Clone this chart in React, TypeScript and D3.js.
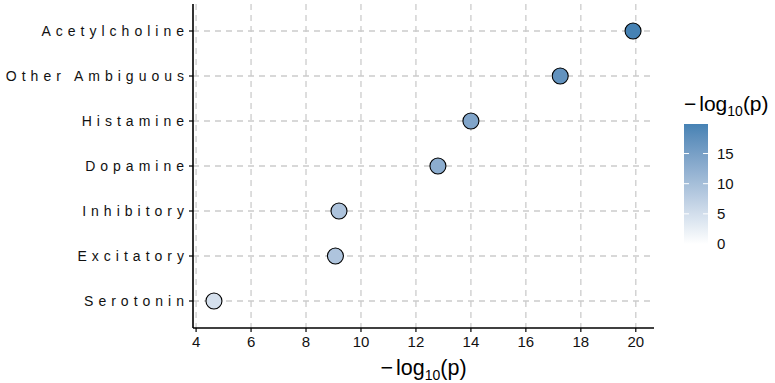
import * as d3 from "d3";

const CATEGORIES = [
  "Acetylcholine",
  "Other Ambiguous",
  "Histamine",
  "Dopamine",
  "Inhibitory",
  "Excitatory",
  "Serotonin",
];
const NEG_LOG_P = [19.9, 17.25, 14.0, 12.8, 9.2, 9.07, 4.65];
const X_TICKS = [4, 6, 8, 10, 12, 14, 16, 18, 20];
const LEGEND_TICKS = [0, 5, 10, 15];

const FONT = "'Liberation Sans', Arial, Helvetica, sans-serif";

export default function App() {
  const width = 775;
  const height = 383;
  const panel = { left: 193, right: 654, top: 4, bottom: 328 };

  const [xmin, xmax] = d3.extent(NEG_LOG_P) as [number, number];
  const pad = (xmax - xmin) * 0.05;
  const x = d3.scaleLinear().domain([xmin - pad, xmax + pad]).range([panel.left, panel.right]);

  const y = d3
    .scalePoint<string>()
    .domain(CATEGORIES)
    .range([panel.top, panel.bottom])
    .padding(0.6);

  const fillMax = xmax;
  const color = d3.scaleLinear<string>().domain([0, fillMax]).range(["#ffffff", "#4682B4"]).interpolate(d3.interpolateLab);

  // legend colour bar
  const bar = { x: 684, w: 24, bottom: 244, top: 124 };
  const ly = d3.scaleLinear().domain([0, fillMax]).range([bar.bottom, bar.top]);
  const stops = d3.range(0, 1.0001, 0.1);

  const gridStyle = { stroke: "#cccccc", strokeWidth: 1.3, strokeDasharray: "6,5" };
  const spacing = 5.0;

  return (
    <svg width={width} height={height} style={{ position: "absolute", left: 0, top: 0 }} fontFamily={FONT}>
      <defs>
        <linearGradient id="fillbar" x1="0" y1="1" x2="0" y2="0">
          {stops.map((t) => (
            <stop key={t} offset={`${t * 100}%`} stopColor={color(t * fillMax)} />
          ))}
        </linearGradient>
      </defs>

      {/* grid */}
      {X_TICKS.map((t) => (
        <line key={`gx${t}`} x1={x(t)} x2={x(t)} y1={panel.top} y2={panel.bottom} {...gridStyle} />
      ))}
      {CATEGORIES.map((c) => (
        <line key={`gy${c}`} x1={panel.left} x2={panel.right} y1={y(c)} y2={y(c)} {...gridStyle} />
      ))}

      {/* axes */}
      <line x1={panel.left} x2={panel.left} y1={panel.top} y2={panel.bottom} stroke="#000" strokeWidth={1.6} />
      <line x1={panel.left} x2={panel.right} y1={panel.bottom} y2={panel.bottom} stroke="#000" strokeWidth={1.6} />

      {CATEGORIES.map((c) => (
        <g key={`yt${c}`}>
          <line x1={panel.left - 4} x2={panel.left} y1={y(c)} y2={y(c)} stroke="#000" strokeWidth={1.2} />
          <text
            x={184 + spacing}
            y={y(c)}
            dy="0.36em"
            textAnchor="end"
            fontSize={14}
            letterSpacing={spacing}
            fill="#111"
          >
            {c}
          </text>
        </g>
      ))}

      {X_TICKS.map((t) => (
        <g key={`xt${t}`}>
          <line x1={x(t)} x2={x(t)} y1={panel.bottom} y2={panel.bottom + 4} stroke="#000" strokeWidth={1.2} />
          <text x={x(t)} y={panel.bottom + 19} textAnchor="middle" fontSize={15} fill="#111">
            {t}
          </text>
        </g>
      ))}

      <text x={(panel.left + panel.right) / 2} y={375} textAnchor="middle" fontSize={21.5} fill="#000">
        −<tspan dx={3}>log</tspan>
        <tspan fontSize={14} dy={5}>10</tspan>
        <tspan dy={-5}>(p)</tspan>
      </text>

      {/* points */}
      {CATEGORIES.map((c, i) => (
        <circle
          key={`p${c}`}
          cx={x(NEG_LOG_P[i])}
          cy={y(c)}
          r={8}
          fill={color(NEG_LOG_P[i])}
          stroke="#000"
          strokeWidth={1.1}
        />
      ))}

      {/* legend */}
      <text x={bar.x} y={111} fontSize={21} fill="#000">
        −<tspan dx={3}>log</tspan>
        <tspan fontSize={14} dy={5}>10</tspan>
        <tspan dy={-5}>(p)</tspan>
      </text>
      <rect x={bar.x} y={bar.top} width={bar.w} height={bar.bottom - bar.top} fill="url(#fillbar)" />
      {LEGEND_TICKS.map((t) => (
        <g key={`lt${t}`}>
          <line x1={bar.x} x2={bar.x + 5} y1={ly(t)} y2={ly(t)} stroke="#fff" strokeWidth={1} />
          <line x1={bar.x + bar.w - 5} x2={bar.x + bar.w} y1={ly(t)} y2={ly(t)} stroke="#fff" strokeWidth={1} />
          <text x={bar.x + bar.w + 9} y={ly(t)} dy="0.36em" fontSize={15} fill="#111">
            {t}
          </text>
        </g>
      ))}
    </svg>
  );
}
